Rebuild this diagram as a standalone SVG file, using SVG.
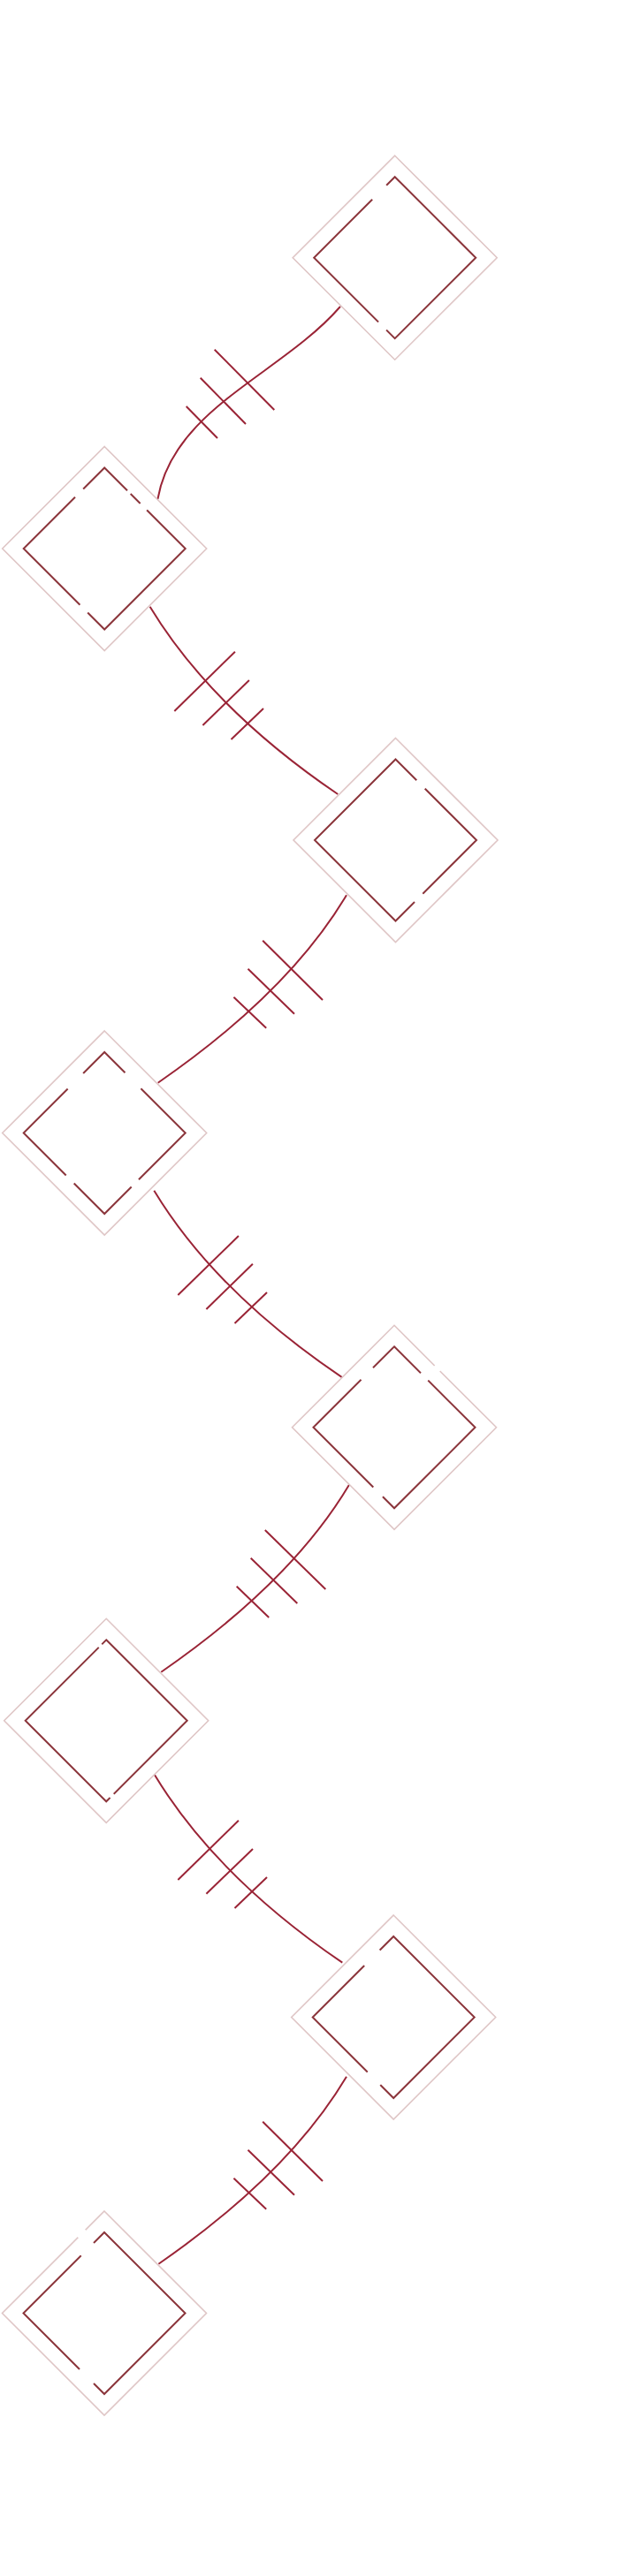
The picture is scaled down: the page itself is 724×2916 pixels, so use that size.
<svg xmlns="http://www.w3.org/2000/svg" width="724" height="2916" viewBox="0 0 724 2916">
<style>
.outer{fill:none;stroke:#dfc6c6;stroke-width:1.6}
.inner{fill:none;stroke:#8b353b;stroke-width:2}
.gap{stroke:#ffffff;stroke-width:5;stroke-linecap:butt}
.link{fill:none;stroke:#9a2436;stroke-width:2}
.tick{stroke:#9a2436;stroke-width:2}
</style>
<rect width="724" height="2916" fill="#ffffff"/>
<g id="connectors">
<path class="link" d="M385,347 C318,424 196.4,462 178.4,565"/>
<line class="tick" x1="242.7" y1="395.7" x2="310.3" y2="464"/>
<line class="tick" x1="226.7" y1="427.7" x2="278" y2="480"/>
<line class="tick" x1="210.7" y1="460" x2="246" y2="496"/>
<path class="link" d="M169.6,686.7 Q239.4,801.9 382.2,899"/>
<line class="tick" x1="197.3" y1="805" x2="265.9" y2="737.7"/>
<line class="tick" x1="229.4" y1="821" x2="281.9" y2="770"/>
<line class="tick" x1="261.5" y1="837" x2="298" y2="802"/>
<path class="link" d="M392,1013.3 Q326,1124 178.7,1225.7"/>
<line class="tick" x1="297.2" y1="1064.7" x2="365" y2="1132"/>
<line class="tick" x1="280.5" y1="1096.7" x2="333" y2="1147.7"/>
<line class="tick" x1="264.4" y1="1128.7" x2="301.2" y2="1163.7"/>
<path class="link" d="M174.3,1347.7 Q244.1,1462.9 387.3,1559.3"/>
<line class="tick" x1="201.3" y1="1466" x2="269.9" y2="1399"/>
<line class="tick" x1="233.4" y1="1482" x2="285.9" y2="1430.7"/>
<line class="tick" x1="265.5" y1="1498" x2="302" y2="1463"/>
<path class="link" d="M395,1680.7 Q329,1791.4 182.3,1892.7"/>
<line class="tick" x1="299.8" y1="1732" x2="368.3" y2="1799"/>
<line class="tick" x1="283.7" y1="1763.7" x2="336.3" y2="1815"/>
<line class="tick" x1="267.7" y1="1795.7" x2="304.2" y2="1831"/>
<path class="link" d="M175,2009.3 Q244.8,2124.5 387.3,2221.7"/>
<line class="tick" x1="201.3" y1="2128" x2="269.9" y2="2060.7"/>
<line class="tick" x1="233.4" y1="2143.7" x2="286" y2="2093"/>
<line class="tick" x1="265.5" y1="2160" x2="302" y2="2125"/>
<path class="link" d="M392,2350.7 Q326,2461.4 179.4,2562.7"/>
<line class="tick" x1="297.2" y1="2401.7" x2="365" y2="2469"/>
<line class="tick" x1="280.5" y1="2433.7" x2="333" y2="2484.7"/>
<line class="tick" x1="264.4" y1="2465.7" x2="301.2" y2="2500.7"/>
</g>
<g id="node-1">
<polygon class="outer" points="446.7,176.2 562.2,291.7 446.7,407.2 331.2,291.7"/>
<polygon class="inner" points="446.7,200.2 538.2,291.7 446.7,383.2 355.2,291.7"/>
<line class="gap" x1="437.1" y1="209.8" x2="421.1" y2="225.8"/>
<line class="gap" x1="437.1" y1="373.6" x2="428.1" y2="364.6"/>
</g>
<g id="node-2">
<polygon class="outer" points="118.2,505.5 233.7,621 118.2,736.5 2.7,621"/>
<polygon class="inner" points="118.2,529.5 209.7,621 118.2,712.5 26.7,621"/>
<line class="gap" x1="94.1" y1="553.6" x2="85" y2="562.7"/>
<line class="gap" x1="144" y1="555.3" x2="147.7" y2="559"/>
<line class="gap" x1="158.6" y1="570.1" x2="166" y2="577.5"/>
<line class="gap" x1="99.2" y1="693.5" x2="90.4" y2="684.7"/>
</g>
<g id="node-3">
<polygon class="outer" points="447.5,835.5 563,951 447.5,1066.5 332,951"/>
<polygon class="inner" points="447.5,859.5 539,951 447.5,1042.5 356,951"/>
<line class="gap" x1="471.2" y1="883.2" x2="480.7" y2="892.7"/>
<line class="gap" x1="478.3" y1="1011.7" x2="469" y2="1021"/>
</g>
<g id="node-4">
<polygon class="outer" points="118.2,1167 233.7,1282.5 118.2,1398 2.7,1282.5"/>
<polygon class="inner" points="118.2,1191 209.7,1282.5 118.2,1374 26.7,1282.5"/>
<line class="gap" x1="94.1" y1="1215.1" x2="76.6" y2="1232.6"/>
<line class="gap" x1="141.5" y1="1214.3" x2="159.4" y2="1232.2"/>
<line class="gap" x1="74.7" y1="1330.5" x2="83.7" y2="1339.5"/>
<line class="gap" x1="157" y1="1335.2" x2="148.7" y2="1343.5"/>
</g>
<g id="node-5">
<polygon class="outer" points="446,1500.3 561.5,1615.8 446,1731.3 330.5,1615.8"/>
<polygon class="inner" points="446,1524.3 537.5,1615.8 446,1707.3 354.5,1615.8"/>
<line class="gap" x1="422" y1="1548.3" x2="408.5" y2="1561.8"/>
<line class="gap" x1="476" y1="1554.3" x2="484.3" y2="1562.6"/>
<line class="gap" x1="491.6" y1="1545.9" x2="497.8" y2="1552.1"/>
<line class="gap" x1="422.3" y1="1683.6" x2="432.9" y2="1694.2"/>
</g>
<g id="node-6">
<polygon class="outer" points="120.2,1832.3 235.7,1947.8 120.2,2063.3 4.7,1947.8"/>
<polygon class="inner" points="120.2,1856.3 211.7,1947.8 120.2,2039.3 28.7,1947.8"/>
<line class="gap" x1="115.2" y1="1861.3" x2="111.7" y2="1864.8"/>
<line class="gap" x1="124.6" y1="2034.9" x2="128.7" y2="2030.8"/>
</g>
<g id="node-7">
<polygon class="outer" points="445.2,2168 560.7,2283.5 445.2,2399 329.7,2283.5"/>
<polygon class="inner" points="445.2,2192 536.7,2283.5 445.2,2375 353.7,2283.5"/>
<line class="gap" x1="429.6" y1="2207.6" x2="412.1" y2="2225.1"/>
<line class="gap" x1="415.8" y1="2345.6" x2="430.3" y2="2360.1"/>
</g>
<g id="node-8">
<polygon class="outer" points="118,2503 233.5,2618.5 118,2734 2.5,2618.5"/>
<polygon class="inner" points="118,2527 209.5,2618.5 118,2710 26.5,2618.5"/>
<line class="gap" x1="106" y1="2539" x2="91.7" y2="2553.3"/>
<line class="gap" x1="96.7" y1="2524.3" x2="88.3" y2="2532.7"/>
<line class="gap" x1="90" y1="2682" x2="106" y2="2698"/>
</g>
</svg>
